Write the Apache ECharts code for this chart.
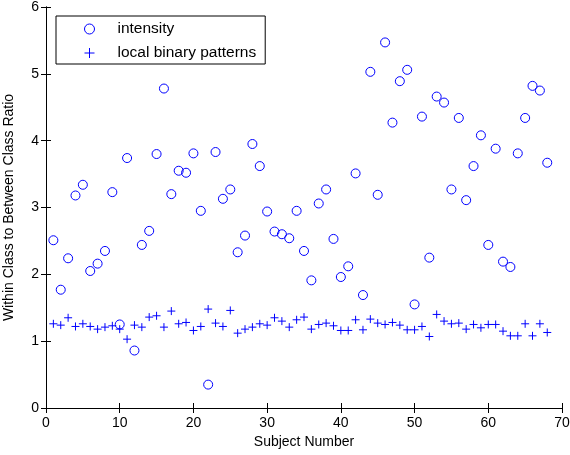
<!DOCTYPE html>
<html>
<head>
<meta charset="utf-8">
<script src="https://cdn.jsdelivr.net/npm/echarts@6/dist/echarts.min.js"></script>
<style>
html,body{margin:0;padding:0;background:#fff;}
#chart{width:570px;height:455px;}
</style>
</head>
<body>
<div id="chart"></div>
<script>
var subjects = [1,2,3,4,5,6,7,8,9,10,11,12,13,14,15,16,17,18,19,20,21,22,23,24,25,26,27,28,29,30,31,32,33,34,35,36,37,38,39,40,41,42,43,44,45,46,47,48,49,50,51,52,53,54,55,56,57,58,59,60,61,62,63,64,65,66,67,68];
var intensity = [2.51,1.77,2.24,3.18,3.34,2.05,2.16,2.35,3.23,1.25,
                 3.74,0.86,2.44,2.65,3.80,4.78,3.20,3.55,3.52,3.81,
                 2.95,0.35,3.83,3.13,3.27,2.33,2.58,3.95,3.62,2.94,
                 2.64,2.60,2.54,2.95,2.35,1.91,3.06,3.27,2.53,1.96,
                 2.12,3.51,1.69,5.03,3.19,5.47,4.27,4.89,5.06,1.55,
                 4.36,2.25,4.66,4.57,3.27,4.34,3.11,3.62,4.08,2.44,
                 3.88,2.19,2.11,3.81,4.34,4.82,4.75,3.67];
var lbp = [1.26,1.24,1.35,1.22,1.26,1.22,1.18,1.21,1.23,1.18,
           1.03,1.24,1.21,1.36,1.38,1.21,1.45,1.26,1.28,1.16,
           1.22,1.48,1.27,1.22,1.46,1.12,1.18,1.21,1.26,1.24,
           1.35,1.30,1.21,1.32,1.36,1.18,1.25,1.27,1.23,1.16,
           1.16,1.32,1.17,1.33,1.27,1.25,1.28,1.24,1.17,1.17,
           1.22,1.07,1.40,1.30,1.26,1.27,1.18,1.25,1.20,1.25,
           1.25,1.15,1.08,1.08,1.26,1.08,1.26,1.13];
var seriesNames = ['intensity', 'local binary patterns'];
var xTitle = 'Subject Number';
var yTitle = 'Within Class to Between Class Ratio';

var FONT = 'Liberation Sans, Arial, sans-serif';
var BLUE = '#0000ff';

function pairs(xs, ys) { return xs.map(function (x, i) { return [x, ys[i]]; }); }

var baseAxisLine = { show: true, lineStyle: { color: '#000', width: 1 } };
var tick = { show: true, inside: true, length: 5, lineStyle: { color: '#000', width: 1 } };
var markStyle = { color: 'rgba(0,0,0,0)', borderColor: BLUE, borderWidth: 1, opacity: 1 };

var chart = echarts.init(document.getElementById('chart'), null, { renderer: 'canvas' });
chart.setOption({
  animation: false,
  backgroundColor: '#fff',
  grid: { left: 46, right: 8, top: 7, bottom: 47, containLabel: false, outerBoundsMode: 'none' },
  legend: {
    orient: 'vertical',
    left: 56, top: 16,
    data: [
      { name: seriesNames[0], itemStyle: markStyle },
      { name: seriesNames[1], itemStyle: markStyle }
    ],
    itemWidth: 10, itemHeight: 10, itemGap: 8,
    padding: [5, 9, 3, 28],
    borderColor: '#000', borderWidth: 1,
    backgroundColor: '#fff',
    selectedMode: false,
    itemStyle: { borderWidth: 1 },
    textStyle: { fontFamily: FONT, fontSize: 15.5, color: '#000', lineHeight: 16, padding: [0, 0, 0, 18] }
  },
  xAxis: [{
    type: 'value', min: 0, max: 70, interval: 10, position: 'bottom',
    name: xTitle, nameLocation: 'middle', nameGap: 25,
    nameTextStyle: { fontFamily: FONT, fontSize: 14, color: '#000' },
    axisLine: baseAxisLine, axisTick: tick,
    axisLabel: { fontFamily: FONT, fontSize: 14, color: '#000', margin: 8 },
    splitLine: { show: false }
  }, {
    type: 'value', min: 0, max: 70, interval: 10, position: 'top',
    axisLine: baseAxisLine, axisTick: tick, axisLabel: { show: false }, splitLine: { show: false }
  }],
  yAxis: [{
    type: 'value', min: 0, max: 6, interval: 1, position: 'left',
    name: yTitle, nameLocation: 'middle', nameGap: 30,
    nameTextStyle: { fontFamily: FONT, fontSize: 14, color: '#000' },
    axisLine: baseAxisLine, axisTick: tick,
    axisLabel: { fontFamily: FONT, fontSize: 14, color: '#000', margin: 7 },
    splitLine: { show: false }
  }, {
    type: 'value', min: 0, max: 6, interval: 1, position: 'right',
    axisLine: baseAxisLine, axisTick: tick, axisLabel: { show: false }, splitLine: { show: false }
  }],
  series: [{
    name: seriesNames[0], type: 'scatter',
    data: pairs(subjects, intensity),
    symbol: 'circle', symbolSize: 9,
    itemStyle: markStyle,
    emphasis: { disabled: true }
  }, {
    name: seriesNames[1], type: 'scatter',
    data: pairs(subjects, lbp),
    symbol: 'path://M0,5L10,5M5,0L5,10', symbolSize: 8,
    itemStyle: markStyle,
    emphasis: { disabled: true }
  }]
});
</script>
</body>
</html>
